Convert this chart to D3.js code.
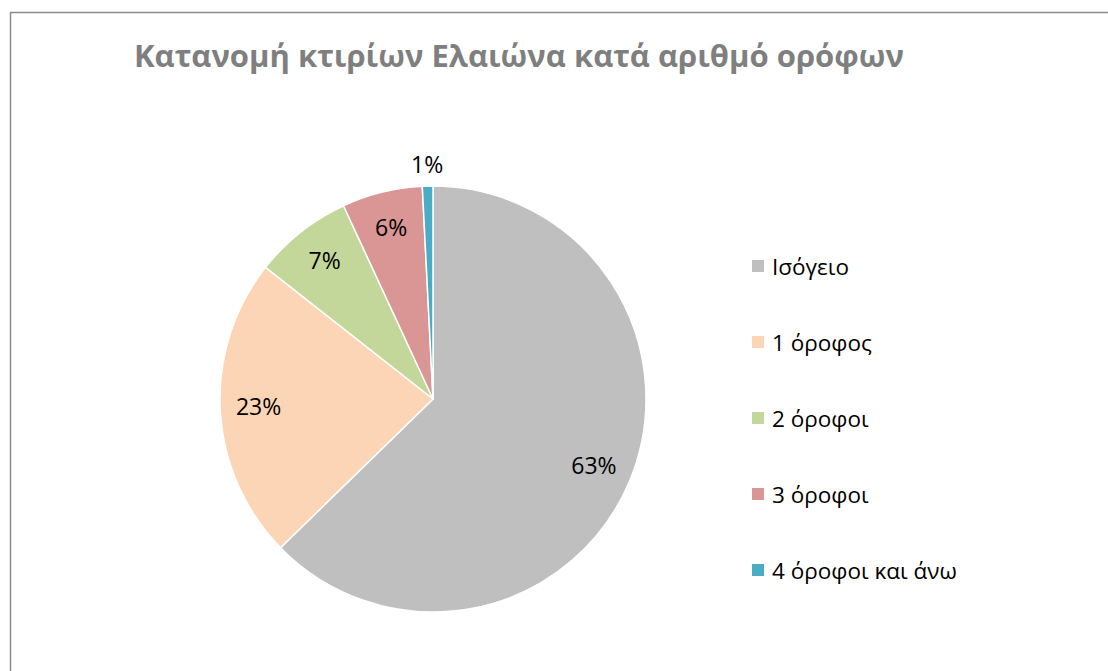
<!DOCTYPE html>
<html>
<head>
<meta charset="utf-8">
<script src="https://cdn.jsdelivr.net/npm/d3@7"></script>
<style>
  html, body { margin: 0; padding: 0; background: #fff; }
  svg { display: block; }
</style>
</head>
<body>
<svg id="chart" width="1108" height="671"></svg>
<script>
const title = "Κατανομή κτιρίων Ελαιώνα κατά αριθμό ορόφων";
const categories = ["Ισόγειο", "1 όροφος", "2 όροφοι", "3 όροφοι", "4 όροφοι και άνω"];
const values = [62.7, 22.9, 7.5, 6.1, 0.8];
const labels = ["63%", "23%", "7%", "6%", "1%"];
const colors = ["#bfbfbf", "#fbd5b5", "#c4d79b", "#d99694", "#4bacc6"];

const svg = d3.select("#chart");
const W = 1108, H = 671;
const font = "'Open Sans', 'Noto Sans', sans-serif";

// chart border
svg.append("rect")
  .attr("x", 10.5).attr("y", 12.5)
  .attr("width", W + 20).attr("height", H + 20)
  .attr("fill", "#fff").attr("stroke", "#8c8c8c").attr("stroke-width", 1.5);

// title
svg.append("text")
  .attr("x", 519).attr("y", 67)
  .attr("text-anchor", "middle")
  .attr("font-family", font)
  .attr("font-weight", "bold")
  .attr("font-size", 31)
  .attr("fill", "#7f7f7f")
  .text(title);

const cx = 433, cy = 399, R = 213;
const data = categories.map((c, i) => ({ cat: c, value: values[i], label: labels[i], color: colors[i] }));

const pie = d3.pie().value(d => d.value).sort(null);
const arcs = pie(data);
const arc = d3.arc().innerRadius(0).outerRadius(R);
const labelArc = d3.arc().innerRadius(R * 0.82).outerRadius(R * 0.82);
const outerArc = d3.arc().innerRadius(R + 20).outerRadius(R + 20);

const g = svg.append("g").attr("transform", `translate(${cx},${cy})`);
g.selectAll("path.slice")
  .data(arcs).enter().append("path")
  .attr("class", "slice")
  .attr("d", arc)
  .attr("fill", d => d.data.color)
  .attr("stroke", "#fff")
  .attr("stroke-width", 1.5)
  .attr("stroke-linejoin", "round");

g.selectAll("text.lbl")
  .data(arcs).enter().append("text")
  .attr("class", "lbl")
  .attr("transform", d => {
    const p = d.data.value < 2 ? outerArc.centroid(d) : labelArc.centroid(d);
    return `translate(${p[0]},${p[1] - 2})`;
  })
  .attr("text-anchor", "middle")
  .attr("dominant-baseline", "central")
  .attr("font-family", font)
  .attr("font-size", 23)
  .attr("fill", "#000")
  .text(d => d.data.label);

// legend
const legendY = d3.scalePoint().domain(categories).range([266, 570]);
const lg = svg.append("g");
const items = lg.selectAll("g.item").data(data).enter().append("g")
  .attr("class", "item")
  .attr("transform", d => `translate(752,${legendY(d.cat)})`);
items.append("rect")
  .attr("x", 0).attr("y", -6).attr("width", 12).attr("height", 12)
  .attr("fill", d => d.color);
items.append("text")
  .attr("x", 20).attr("y", 0)
  .attr("dominant-baseline", "central")
  .attr("font-family", font)
  .attr("font-size", 22.5)
  .attr("fill", "#000")
  .text(d => d.cat);
</script>
</body>
</html>
